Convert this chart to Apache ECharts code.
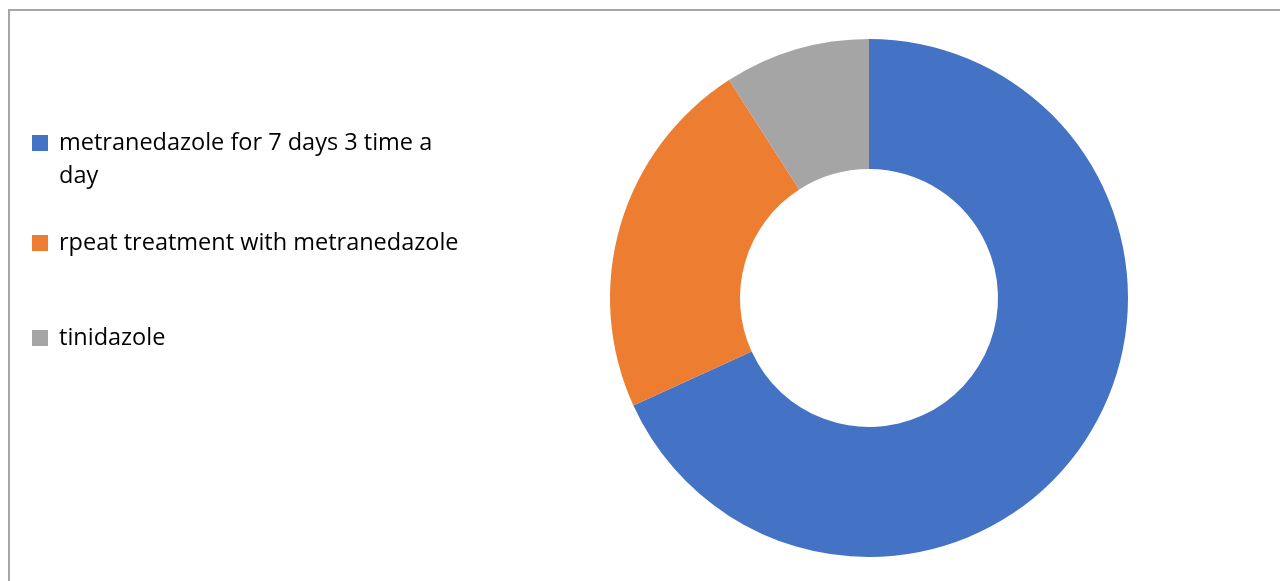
<!DOCTYPE html>
<html>
<head>
<meta charset="utf-8">
<script src="https://cdn.jsdelivr.net/npm/echarts@6/dist/echarts.min.js"></script>
<style>
html,body{margin:0;padding:0;background:#fff;}
#main{width:1280px;height:581px;}
</style>
</head>
<body>
<div id="main"></div>
<script>
const categories = [
  'metranedazole for 7 days 3 time a day',
  'rpeat treatment with metranedazole',
  'tinidazole'
];
const values = [15, 5, 2];
const colors = ['#4472C4', '#ED7D31', '#A5A5A5'];
const legendLabels = [
  '\nmetranedazole for 7 days 3 time a\nday',
  'rpeat treatment with metranedazole',
  'tinidazole'
];

const chart = echarts.init(document.getElementById('main'));
const font = 'Open Sans';
const fs = 23.5;
const legendTops = [93.5, 226.5, 321.5];
const legends = categories.map((c, i) => ({
  orient: 'vertical',
  left: 32,
  top: legendTops[i],
  padding: 0,
  itemWidth: 16,
  itemHeight: 16,
  icon: 'rect',
  selectedMode: false,
  data: [c],
  formatter: () => legendLabels[i],
  textStyle: {
    fontFamily: font,
    fontSize: fs,
    color: '#000',
    lineHeight: 33,
    padding: [0, 0, 0, 6]
  }
}));

chart.setOption({
  animation: false,
  color: colors,
  legend: legends,
  graphic: [{
    type: 'polyline',
    silent: true,
    shape: { points: [[9, 581], [9, 10], [1280, 10]] },
    style: { stroke: '#a6a6a6', lineWidth: 2, fill: null }
  }],
  series: [{
    type: 'pie',
    center: [869, 298],
    radius: [129, 259],
    startAngle: 90,
    clockwise: true,
    label: { show: false },
    labelLine: { show: false },
    emphasis: { disabled: true },
    itemStyle: { borderWidth: 0 },
    data: categories.map((c, i) => ({ name: c, value: values[i] }))
  }]
});
</script>
</body>
</html>
